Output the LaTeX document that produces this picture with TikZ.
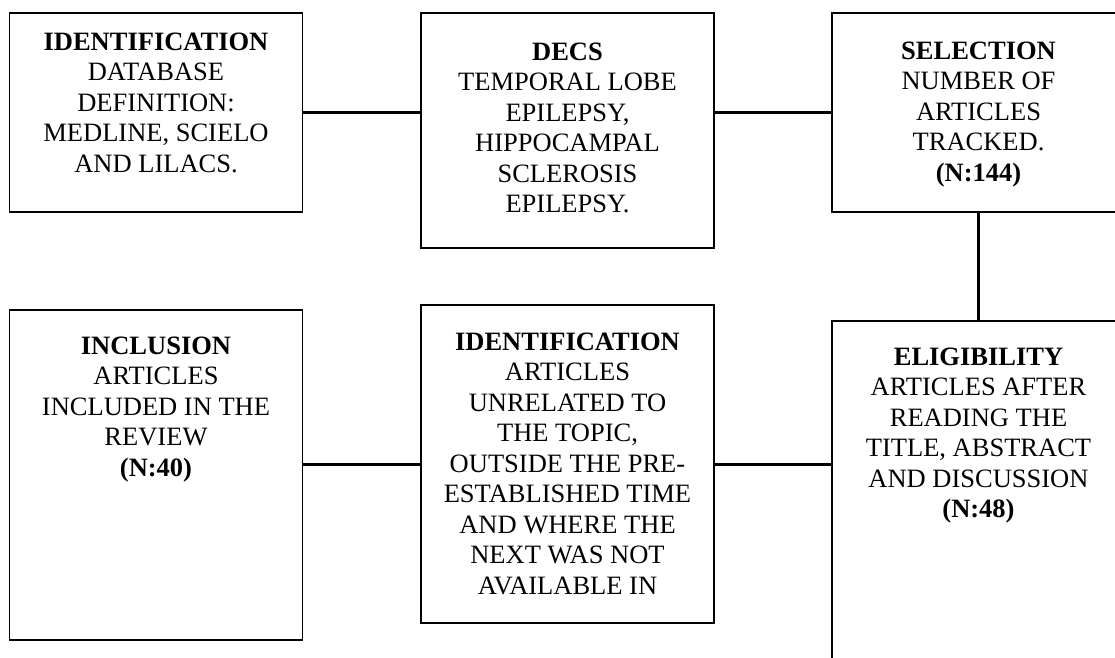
\documentclass[tikz,border=0pt]{standalone}
\usepackage{fontspec}
\setmainfont{Liberation Serif}
\tikzset{
  stagebox/.style={draw, line width=1.3pt, minimum width=293pt, inner sep=0pt},
  stagetext/.style={anchor=north, inner sep=0pt, align=center, font=\fontsize{26.5}{30.5}\selectfont},
  joinline/.style={line width=3pt},
}
\begin{document}
\begin{tikzpicture}[x=1pt,y=-1pt]
  \useasboundingbox (0,0) rectangle (1115,657);
  \clip (0,0) rectangle (1115,657);
  % upper row
  \node[stagebox, minimum height=199pt, label={[stagetext, yshift=-20pt]north:{\textbf{IDENTIFICATION}\\DATABASE\\DEFINITION:\\MEDLINE, SCIELO\\AND LILACS.}}] (ident) at (156,112.5) {};
  \node[stagebox, minimum height=235pt, label={[stagetext, yshift=-30pt]north:{\textbf{DECS}\\TEMPORAL LOBE\\EPILEPSY,\\HIPPOCAMPAL\\SCLEROSIS\\EPILEPSY.}}] (decs) at (567.5,130.5) {};
  \node[stagebox, minimum height=199pt, label={[stagetext, yshift=-29pt]north:{\textbf{SELECTION}\\NUMBER OF\\ARTICLES\\TRACKED.\\\textbf{(N:144)}}}] (select) at (978.5,112.5) {};
  % lower row
  \node[stagebox, minimum height=330pt, label={[stagetext, yshift=-27pt]north:{\textbf{INCLUSION}\\ARTICLES\\INCLUDED IN THE\\REVIEW\\\textbf{(N:40)}}}] (incl) at (156,475) {};
  \node[stagebox, minimum height=318pt, label={[stagetext, yshift=-28pt]north:{\textbf{IDENTIFICATION}\\ARTICLES\\UNRELATED TO\\THE TOPIC,\\OUTSIDE THE PRE-\\ESTABLISHED TIME\\AND WHERE THE\\NEXT WAS NOT\\AVAILABLE IN}}] (excl) at (567.5,464) {};
  \node[stagebox, minimum height=360pt, label={[stagetext, yshift=-27pt]north:{\textbf{ELIGIBILITY}\\ARTICLES AFTER\\READING THE\\TITLE, ABSTRACT\\AND DISCUSSION\\\textbf{(N:48)}}}] (elig) at (978.5,501) {};
  % connectors
  \draw[joinline] (ident.east) -- (ident.east -| decs.west);
  \draw[joinline] (select.west) -- (select.west -| decs.east);
  \draw[joinline] (select.south) -- (elig.north);
  \draw[joinline] (excl.west) -- (excl.west -| incl.east);
  \draw[joinline] (excl.east) -- (excl.east -| elig.west);
\end{tikzpicture}
\end{document}
